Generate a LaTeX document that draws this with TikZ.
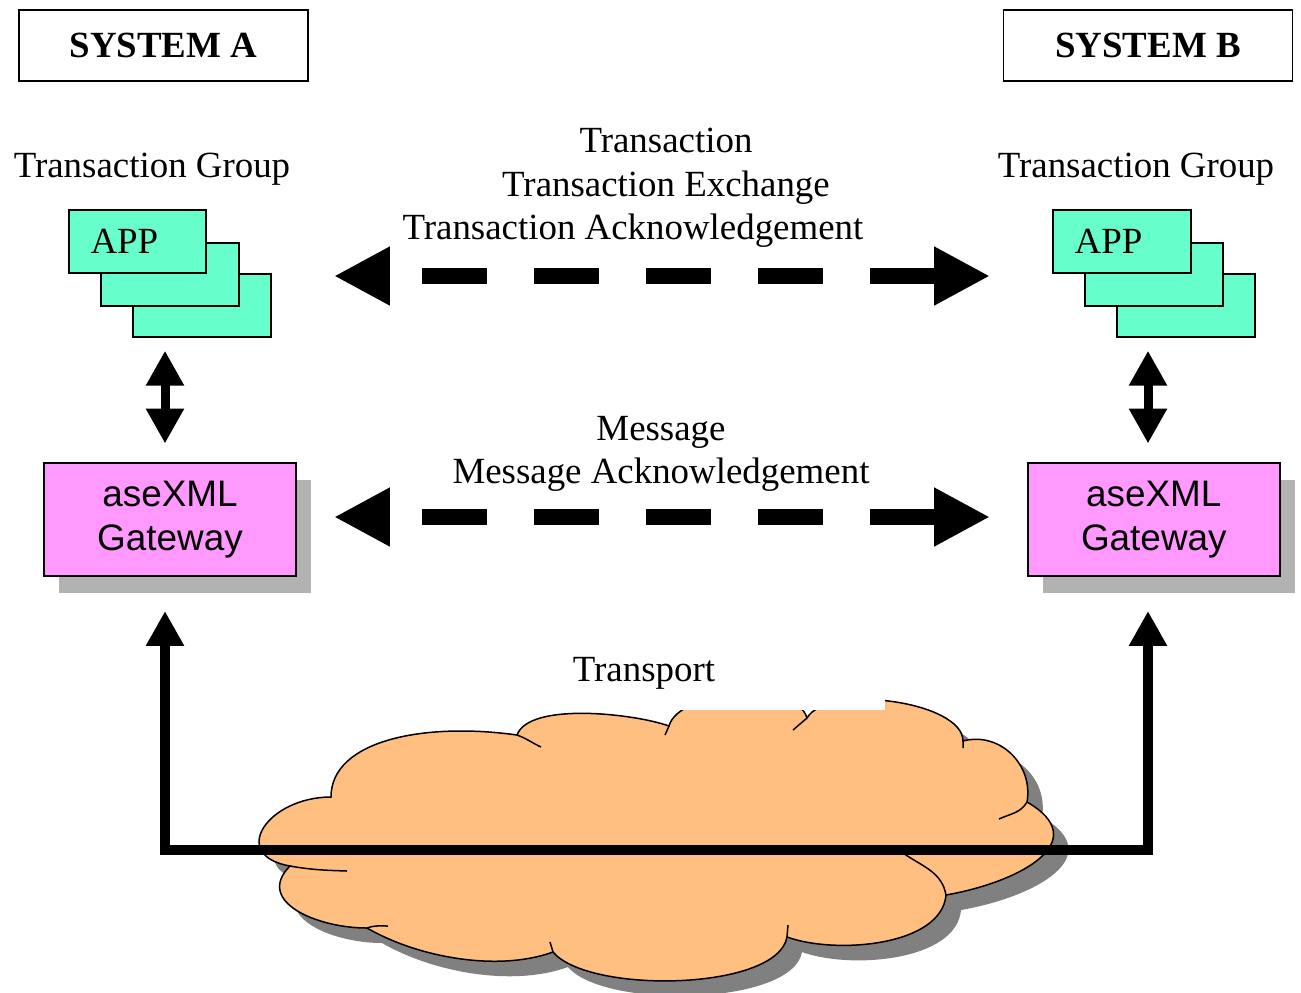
\documentclass[tikz,border=0pt]{standalone}
\usepackage{fontspec}
\setmainfont{Liberation Serif}
\setsansfont{Liberation Sans}
\usetikzlibrary{arrows.meta,shadows}

\definecolor{appgreen}{HTML}{66FFCC}
\definecolor{gwpink}{HTML}{FF99FF}
\definecolor{gwshadow}{HTML}{B2B2B2}
\definecolor{cloudfill}{HTML}{FFBF80}
\definecolor{cloudshadow}{HTML}{808080}

\newcommand\diafont{\fontsize{21}{25}\selectfont}

\tikzset{
  sysbox/.style={draw,line width=0.03cm,minimum width=5.78cm,minimum height=1.42cm,inner sep=0pt,font=\diafont\bfseries},
  lbl/.style={anchor=base,inner sep=0pt,font=\diafont},
  appbox/.style={draw,line width=0.04cm,fill=appgreen,minimum width=2.76cm,minimum height=1.26cm,inner sep=0pt},
  apptext/.style={appbox,text width=1.88cm,inner xsep=0.44cm,align=left,font=\diafont},
  gwbox/.style={draw,line width=0.04cm,fill=gwpink,minimum width=5.04cm,minimum height=2.26cm,align=center,font=\diafont\sffamily,
    drop shadow={shadow xshift=0.3cm,shadow yshift=-0.34cm,fill=gwshadow,opacity=1}},
  bigdash/.style={line width=0.32cm,dash pattern=on 1.3cm off 0.94cm,dash phase=1.52cm,
    {Triangle[length=1.12cm,width=1.1cm]}-{Triangle[length=1.12cm,width=1.1cm]}},
  updown/.style={line width=0.18cm,{Triangle[length=0.7cm,width=0.72cm]}-{Triangle[length=0.7cm,width=0.72cm]}},
  netlink/.style={line width=0.2cm,{Triangle[length=0.7cm,width=0.72cm]}-{Triangle[length=0.7cm,width=0.72cm]}}
}

% outline of the transport cloud
\newcommand\cloudpath{(290,-866) to[out=170,in=180,looseness=2] (331,-797)
  .. controls (331,-740) and (425,-722) .. (517,-735)
  to[out=70,in=160,looseness=0.6] (669,-726)
  to[out=75,in=105,looseness=0.7] (807,-718)
  to[out=60,in=90,looseness=0.65] (963,-741)
  to[out=15,in=80,looseness=1.1] (1027,-802)
  to[out=-30,in=10,looseness=1.6] (946,-895)
  to[out=-95,in=-20,looseness=0.8] (787,-937)
  to[out=-100,in=-50,looseness=0.6] (553,-952)
  to[out=-160,in=-30,looseness=0.8] (367,-928)
  to[out=180,in=-135,looseness=1.3] (290,-866) -- cycle}

\begin{document}
\begin{tikzpicture}[x=0.02cm,y=0.02cm]
\useasboundingbox (0,0) rectangle (1301,-992);

\node[sysbox] (sysA) at (163.5,-45.5) {SYSTEM A};
\node[sysbox] (sysB) at (1148,-45.5) {SYSTEM B};

\node[lbl] (grpA) at (152,-177) {Transaction Group};
\node[lbl] (grpB) at (1136,-177) {Transaction Group};

% application stacks
\node[appbox] (appA3) at (201.7,-305.7) {};
\node[appbox] (appA2) at (170,-274.2) {};
\node[apptext] (appA1) at (137.5,-241.7) {APP};
\node[appbox] (appB3) at (1185.8,-305.7) {};
\node[appbox] (appB2) at (1153.5,-274.2) {};
\node[apptext] (appB1) at (1121.7,-241.7) {APP};

\node[gwbox] (gwA) at (170,-519.5) {aseXML\\Gateway};
\node[gwbox] (gwB) at (1153.8,-519.5) {aseXML\\Gateway};

\coordinate (vA) at (165,0);
\coordinate (vB) at (1148,0);
\draw[updown,shorten <=0.25cm,shorten >=0.37cm] (vA |- appA3.south) -- (vA |- gwA.north);
\draw[updown,shorten <=0.25cm,shorten >=0.37cm] (vB |- appB3.south) -- (vB |- gwB.north);

% exchanges between the systems
\node[lbl] (txn) at (666,-152) {Transaction};
\node[lbl] (txnEx) at (666,-196) {Transaction Exchange};
\node[lbl] (txnAck) at (633,-239) {Transaction Acknowledgement};
\coordinate (trL) at (334,-276);
\coordinate (trR) at (990,-276);
\draw[bigdash] (trL) -- (trR);

\node[lbl] (msg) at (661,-440) {Message};
\node[lbl] (msgAck) at (661,-483) {Message Acknowledgement};
\coordinate (msL) at (334,-517);
\coordinate (msR) at (990,-517);
\draw[bigdash] (msL) -- (msR);

% transport cloud
\fill[cloudshadow,shift={(15,-15)}] \cloudpath;
\filldraw[fill=cloudfill,line width=0.03cm] \cloudpath;
\draw[line width=0.03cm] (517,-735) to[out=-20,in=155] (541,-747)
  (669,-726) -- (665,-735) (807,-718) -- (793,-730) (963,-741) -- (963,-748)
  (1027,-802) to[out=-120,in=25] (999,-819)
  (946,-895) to[out=100,in=-35] (903,-853) (787,-937) -- (788,-925)
  (553,-952) -- (550,-942) (367,-928) to[out=20,in=180] (388,-926)
  (290,-866) to[out=-10,in=178] (347,-871);
\fill[white] (672,-686) rectangle (885,-710);
\node[lbl] (trans) at (644,-681) {Transport};

\coordinate (lnk) at (0,-850);
\draw[netlink,shorten <=0.68cm,shorten >=0.68cm] (gwA.south -| vA) -- (vA |- lnk) -- (vB |- lnk) -- (gwB.south -| vB);
\end{tikzpicture}
\end{document}
